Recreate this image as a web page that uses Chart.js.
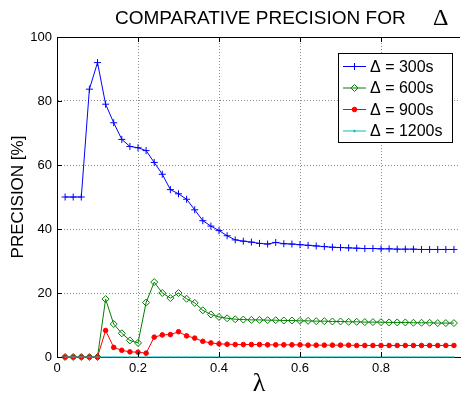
<!DOCTYPE html>
<html>
<head>
<meta charset="utf-8">
<script src="https://cdn.jsdelivr.net/npm/chart.js@4.4.0/dist/chart.umd.min.js"></script>
<style>
  html, body { margin: 0; padding: 0; background: #fff; }
  #wrap { width: 465px; height: 396px; }
</style>
</head>
<body>
<div id="wrap"><canvas id="precisionChart" width="465" height="396"></canvas></div>
<script>
// lambda values (x axis)
const lambdas = [0.02, 0.04, 0.06, 0.08, 0.10, 0.12, 0.14, 0.16, 0.18, 0.20,
    0.22, 0.24, 0.26, 0.28, 0.30, 0.32, 0.34, 0.36, 0.38, 0.40,
    0.42, 0.44, 0.46, 0.48, 0.50, 0.52, 0.54, 0.56, 0.58, 0.60,
    0.62, 0.64, 0.66, 0.68, 0.70, 0.72, 0.74, 0.76, 0.78, 0.80,
    0.82, 0.84, 0.86, 0.88, 0.90, 0.92, 0.94, 0.96, 0.98];

// precision [%] for each delta
const prec300 = [50, 50, 50, 83.7, 92, 79, 73.2, 68, 65.8, 65.4,
    64.5, 60.8, 57.1, 52.3, 51, 49.3, 46, 42.6, 40.9, 39.5,
    37.9, 36.6, 36.2, 35.9, 35.5, 35.3, 35.8, 35.4, 35.3, 35.1,
    34.9, 34.7, 34.5, 34.3, 34.2, 34.1, 34.0, 33.9, 33.9, 33.8,
    33.8, 33.7, 33.7, 33.7, 33.6, 33.6, 33.6, 33.6, 33.6];
const prec600 = [0, 0, 0, 0, 0, 18.1, 10.3, 7.4, 5.2, 4.4,
    17.0, 23.4, 20.0, 18.4, 20.0, 18.2, 16.9, 14.6, 13.3, 12.5,
    12.1, 11.8, 11.7, 11.6, 11.6, 11.5, 11.5, 11.4, 11.4, 11.3,
    11.3, 11.2, 11.2, 11.1, 11.1, 11.0, 11.0, 10.9, 10.9, 10.9,
    10.8, 10.8, 10.8, 10.7, 10.7, 10.7, 10.6, 10.6, 10.6];
const prec900 = [0, 0, 0, 0, 0, 8.3, 3.0, 2.1, 1.6, 1.5,
    1.2, 6.2, 6.9, 7.0, 7.9, 6.6, 5.9, 4.9, 4.4, 4.1,
    4.0, 3.9, 3.9, 3.9, 3.9, 3.8, 3.8, 3.8, 3.8, 3.8,
    3.7, 3.7, 3.7, 3.7, 3.7, 3.7, 3.6, 3.6, 3.6, 3.6,
    3.6, 3.6, 3.6, 3.6, 3.6, 3.6, 3.6, 3.6, 3.6];
const prec1200 = [0, 0, 0, 0, 0, 0, 0, 0, 0, 0,
    0, 0, 0, 0, 0, 0, 0, 0, 0, 0,
    0, 0, 0, 0, 0, 0, 0, 0, 0, 0,
    0, 0, 0, 0, 0, 0, 0, 0, 0, 0,
    0, 0, 0, 0, 0, 0, 0, 0, 0];

const seriesLabels = ['\u0394 = 300s', '\u0394 = 600s', '\u0394 = 900s', '\u0394 = 1200s'];
const yTicks = [0, 20, 40, 60, 80, 100];
const xTicks = [0, 0.2, 0.4, 0.6, 0.8];

function toPoints(values) {
    return values.map((v, i) => ({ x: lambdas[i], y: v }));
}

const sans = '"Liberation Sans", Arial, Helvetica, sans-serif';
const serif = '"Liberation Serif", "Times New Roman", serif';

// title, axis labels, box, inner ticks and legend
const decorPlugin = {
    id: 'decor',
    afterDraw(chart) {
        const ctx = chart.ctx;
        const a = chart.chartArea;
        const xs = chart.scales.x, ys = chart.scales.y;
        ctx.save();

        // box top line
        ctx.strokeStyle = '#000';
        ctx.lineWidth = 1;
        ctx.setLineDash([]);
        ctx.beginPath();
        ctx.moveTo(a.left, a.top + 0.5);
        ctx.lineTo(a.right, a.top + 0.5);
        ctx.stroke();

        // inner tick marks
        ctx.beginPath();
        xTicks.forEach(t => {
            const px = Math.round(xs.getPixelForValue(t)) + 0.5;
            ctx.moveTo(px, a.bottom); ctx.lineTo(px, a.bottom - 5);
            ctx.moveTo(px, a.top); ctx.lineTo(px, a.top + 5);
        });
        yTicks.forEach(t => {
            const py = Math.round(ys.getPixelForValue(t)) + 0.5;
            ctx.moveTo(a.left, py); ctx.lineTo(a.left + 5, py);
        });
        ctx.stroke();

        // title
        ctx.fillStyle = '#000';
        ctx.textBaseline = 'alphabetic';
        ctx.textAlign = 'left';
        ctx.font = '19px ' + sans;
        ctx.fillText('COMPARATIVE PRECISION FOR', 115, 24);
        ctx.font = '24px ' + serif;
        ctx.fillText('\u0394', 433, 25);

        // y axis title
        ctx.save();
        ctx.translate(23, (a.top + a.bottom) / 2);
        ctx.rotate(-Math.PI / 2);
        ctx.textAlign = 'center';
        ctx.font = '17px ' + sans;
        ctx.fillText('PRECISION [%]', 0, 0);
        ctx.restore();

        // x axis title
        ctx.textAlign = 'center';
        ctx.font = '26px ' + serif;
        ctx.fillText('\u03bb', 259, 391);

        // legend box
        const lx = 338, ly = 53, lw = 114, lh = 89;
        ctx.fillStyle = '#fff';
        ctx.fillRect(lx, ly, lw, lh);
        ctx.strokeStyle = '#000';
        ctx.strokeRect(lx + 0.5, ly + 0.5, lw, lh);

        chart.data.datasets.forEach((ds, i) => {
            const ry = 66.5 + i * 21.5;
            ctx.strokeStyle = ds.borderColor;
            ctx.fillStyle = ds.pointBackgroundColor;
            ctx.lineWidth = 1;
            ctx.beginPath();
            ctx.moveTo(343, ry);
            ctx.lineTo(366, ry);
            ctx.stroke();
            Chart.helpers.drawPoint(ctx, {
                pointStyle: ds.pointStyle,
                radius: ds.pointRadius,
                borderWidth: 1,
                rotation: 0
            }, 354.5, ry);
            ctx.fillStyle = '#000';
            ctx.textAlign = 'left';
            ctx.textBaseline = 'middle';
            ctx.font = '16px ' + sans;
            ctx.fillText(seriesLabels[i], 370, ry + 1);
        });

        ctx.restore();
    }
};

const gridOpts = { color: '#8c8c8c', drawTicks: false, lineWidth: 1 };

const chart = new Chart(document.getElementById('precisionChart'), {
    type: 'line',
    data: {
        datasets: [{
            label: seriesLabels[0],
            data: toPoints(prec300),
            borderColor: '#0000ff',
            pointBackgroundColor: '#0000ff',
            pointStyle: 'cross',
            pointRadius: 3.5,
            pointBorderWidth: 1,
            borderWidth: 1,
            order: 3
        }, {
            label: seriesLabels[1],
            data: toPoints(prec600),
            borderColor: '#008000',
            pointBackgroundColor: 'rgba(0,0,0,0)',
            pointStyle: 'rectRot',
            pointRadius: 3.5,
            pointBorderWidth: 1,
            borderWidth: 1,
            order: 2
        }, {
            label: seriesLabels[2],
            data: toPoints(prec900),
            borderColor: '#ff0000',
            pointBackgroundColor: '#ff0000',
            pointStyle: 'circle',
            pointRadius: 2.3,
            pointBorderWidth: 1,
            borderWidth: 1,
            order: 1
        }, {
            label: seriesLabels[3],
            data: toPoints(prec1200),
            borderColor: '#00bfbf',
            pointBackgroundColor: '#00bfbf',
            pointStyle: 'circle',
            pointRadius: 0.8,
            pointBorderWidth: 0,
            borderWidth: 1,
            order: 0
        }]
    },
    options: {
        responsive: false,
        animation: false,
        clip: false,
        layout: { padding: { top: 37, left: 0, right: 0, bottom: 0 } },
        plugins: {
            legend: { display: false },
            title: { display: false },
            tooltip: { enabled: false }
        },
        elements: { line: { tension: 0 } },
        scales: {
            x: {
                type: 'linear',
                min: 0,
                max: 0.995,
                afterFit(scale) { scale.height = 39; },
                afterBuildTicks(scale) { scale.ticks = xTicks.map(v => ({ value: v })); },
                border: { display: true, color: '#000', width: 1, dash: [1, 2] },
                grid: gridOpts,
                ticks: {
                    padding: 4,
                    color: '#000',
                    font: { family: sans, size: 13 },
                    maxRotation: 0,
                    callback: v => String(v)
                }
            },
            y: {
                min: 0,
                max: 100,
                afterFit(scale) { scale.width = 57; },
                afterBuildTicks(scale) { scale.ticks = yTicks.map(v => ({ value: v })); },
                border: { display: true, color: '#000', width: 1, dash: [1, 2] },
                grid: gridOpts,
                ticks: {
                    padding: 5,
                    color: '#000',
                    font: { family: sans, size: 13 },
                    callback: v => String(v)
                }
            }
        }
    },
    plugins: [decorPlugin]
});
</script>
</body>
</html>
